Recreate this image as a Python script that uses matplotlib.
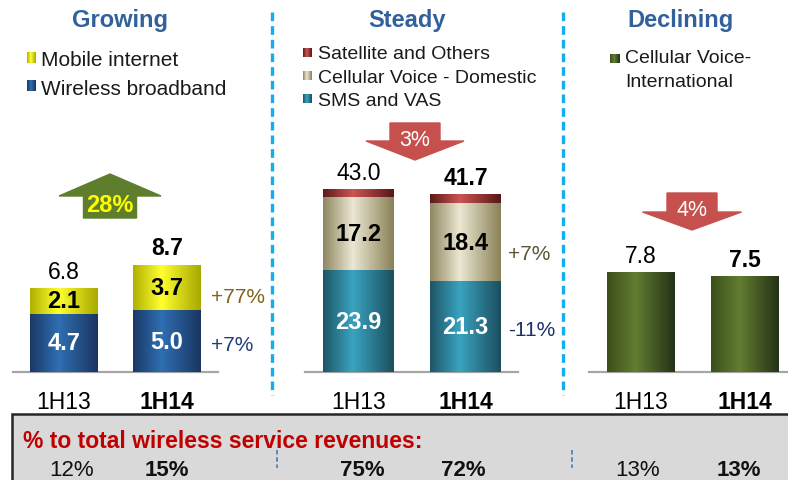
import matplotlib
matplotlib.use("Agg")
import matplotlib.pyplot as plt
import numpy as np
from matplotlib.colors import LinearSegmentedColormap
from matplotlib.patches import Rectangle, FancyArrow

plt.rcParams['font.family'] = ['Liberation Sans', 'DejaVu Sans']

# ---------------- data ----------------
categories = ['1H13', '1H14']
wireless_broadband = [4.7, 5.0]
mobile_internet = [2.1, 3.7]
growing_total = [6.8, 8.7]
sms_vas = [23.9, 21.3]
cellular_domestic = [17.2, 18.4]
satellite_others = [1.9, 2.0]
steady_total = [43.0, 41.7]
cellular_international = [7.8, 7.5]
share_growing = ['12%', '15%']
share_steady = ['75%', '72%']
share_declining = ['13%', '13%']
panel_titles = ['Growing', 'Steady', 'Declining']
panel_changes = ['28%', '3%', '4%']
growing_seg_changes = ['+77%', '+7%']
steady_seg_changes = ['+7%', '-11%']

W, H = 788, 481
fig = plt.figure(figsize=(W / 100, H / 100), dpi=100)
fig.patch.set_facecolor('white')

# overlay axes in pixel coordinates
ov = fig.add_axes([0, 0, 1, 1], zorder=5)
ov.set_xlim(0, W)
ov.set_ylim(H, 0)
ov.axis('off')
ov.patch.set_alpha(0)

GRAD = {
    'blue': ['#1a3866', '#2f6fb3', '#1a3560'],
    'yellow': ['#b0b000', '#ffff30', '#a8a800'],
    'teal': ['#1d5566', '#3aa3c0', '#1b4e5e'],
    'tan': ['#8f8761', '#ebe7d2', '#8a8158'],
    'red': ['#5a1a1a', '#cc5552', '#561818'],
    'green': ['#3b4f1b', '#627d31', '#243117'],
}


def cmap_for(key):
    c = GRAD[key]
    return LinearSegmentedColormap.from_list(key, [(0, c[0]), (0.42, c[1]), (1, c[2])])


def gradient_fill(ax, patch, key, zorder=3):
    x0, y0 = patch.get_x(), patch.get_y()
    w, h = patch.get_width(), patch.get_height()
    grad = np.linspace(0, 1, 256).reshape(1, -1)
    im = ax.imshow(grad, cmap=cmap_for(key), aspect='auto',
                   extent=(x0, x0 + w, y0, y0 + h), origin='lower', zorder=zorder)
    im.set_clip_path(patch)
    patch.set_facecolor('none')


def px_axes(left, top, right, bottom):
    return fig.add_axes([left / W, 1 - bottom / H, (right - left) / W, (bottom - top) / H])


def setup_bar_axes(left, right, c0, c1, top, baseline, px_per_unit):
    ax = px_axes(left, top, right, baseline)
    span = (right - left) / (c1 - c0)
    a = -(c0 - left) / (c1 - c0)
    ax.set_xlim(a, a + span)
    ax.set_ylim(0, (baseline - top) / px_per_unit)
    for s in ax.spines.values():
        s.set_visible(False)
    ax.patch.set_alpha(0)
    ax.set_yticks([])
    ax.axhline(0, color='#a6a6a6', lw=1.6, zorder=2, clip_on=False)
    ax.set_xticks(range(len(categories)), categories)
    ax.tick_params(axis='x', length=0, pad=13, labelsize=16.5, colors='#000000')
    labs = ax.get_xticklabels()
    labs[1].set_fontweight('bold')
    return ax


def total_labels(ax, bars, totals):
    for i, (b, t) in enumerate(zip(bars, totals)):
        ax.annotate(f'{t:.1f}', (b.get_x() + b.get_width() / 2, b.get_y() + b.get_height()),
                    xytext=(0, 12), textcoords='offset points', ha='center', va='center',
                    fontsize=16.5, fontweight='bold' if i == 1 else 'normal', color='#000000')


def seg_labels(ax, bars, values, color):
    for b, v in zip(bars, values):
        ax.text(b.get_x() + b.get_width() / 2, b.get_y() + b.get_height() / 2, f'{v:.1f}',
                ha='center', va='center', fontsize=17, fontweight='bold', color=color, zorder=6)


x = np.arange(len(categories))

# ---------------- Growing ----------------
axg = setup_bar_axes(13, 218, 64, 167, 120, 373, 12.35)
bw = 68 / 103
b1 = axg.bar(x, wireless_broadband, width=bw, zorder=3)
b2 = axg.bar(x, mobile_internet, width=bw, bottom=wireless_broadband, zorder=3)
for p in b1:
    gradient_fill(axg, p, 'blue')
for p in b2:
    gradient_fill(axg, p, 'yellow')
seg_labels(axg, b1, wireless_broadband, 'white')
seg_labels(axg, b2, mobile_internet, 'black')
total_labels(axg, b2, growing_total)

# ---------------- Steady ----------------
axs = setup_bar_axes(305, 518, 358.5, 465.5, 120, 373, 4.26)
bw = 71 / 107
bottom2 = [a + b for a, b in zip(sms_vas, cellular_domestic)]
s1 = axs.bar(x, sms_vas, width=bw, zorder=3)
s2 = axs.bar(x, cellular_domestic, width=bw, bottom=sms_vas, zorder=3)
s3 = axs.bar(x, satellite_others, width=bw, bottom=bottom2, zorder=3)
for p in s1:
    gradient_fill(axs, p, 'teal')
for p in s2:
    gradient_fill(axs, p, 'tan')
for p in s3:
    gradient_fill(axs, p, 'red')
seg_labels(axs, s1, sms_vas, 'white')
seg_labels(axs, s2, cellular_domestic, 'black')
total_labels(axs, s3, steady_total)

# ---------------- Declining ----------------
axd = setup_bar_axes(589, 788, 641, 744.5, 120, 373, 12.8)
bw = 68 / 103.5
d1 = axd.bar(x, cellular_international, width=bw, zorder=3)
for p in d1:
    gradient_fill(axd, p, 'green')
total_labels(axd, d1, cellular_international)

# ---------------- titles ----------------
title_color = '#31609b'
for tx, t in zip([120, 407, 681], panel_titles):
    ov.text(tx, 27, t, ha='center', va='baseline', fontsize=17, fontweight='bold', color=title_color)


# ---------------- legends ----------------
def legend_marker(x0, y0, w, h, key):
    r = Rectangle((x0, y0), w, h, facecolor='none', edgecolor='none')
    ov.add_patch(r)
    grad = np.linspace(0, 1, 64).reshape(1, -1)
    im = ov.imshow(grad, cmap=cmap_for(key), aspect='auto', extent=(x0, x0 + w, y0 + h, y0),
                   zorder=6)
    im.set_clip_path(r)


legend_marker(27, 53, 9, 11, 'yellow')
ov.text(41, 66, 'Mobile internet', fontsize=15, va='baseline', color='#1a1a1a')
legend_marker(27, 81, 9, 11, 'blue')
ov.text(41, 95, 'Wireless broadband', fontsize=15, va='baseline', color='#1a1a1a')

legend_marker(303, 49, 9, 9, 'red')
ov.text(318, 59, 'Satellite and Others', fontsize=14, va='baseline', color='#1a1a1a')
legend_marker(303, 72, 9, 9, 'tan')
ov.text(318, 83, 'Cellular Voice - Domestic', fontsize=14, va='baseline', color='#1a1a1a')
legend_marker(303, 95, 9, 9, 'teal')
ov.text(318, 106, 'SMS and VAS', fontsize=14, va='baseline', color='#1a1a1a')

legend_marker(610, 55, 10, 9, 'green')
ov.text(625, 63, 'Cellular Voice-', fontsize=14, va='baseline', color='#1a1a1a')
ov.text(625, 87, 'International', fontsize=14, va='baseline', color='#1a1a1a')

# ---------------- change arrows ----------------
ov.add_patch(FancyArrow(110, 219, 0, -44, width=53, head_width=102, head_length=22,
                        length_includes_head=True, color='#5e7e2e', zorder=4))
ov.text(110, 206, panel_changes[0], ha='center', va='center', fontsize=17,
        fontweight='bold', color='#ffff00', zorder=7)
ov.add_patch(FancyArrow(415, 124, 0, 37, width=50, head_width=98, head_length=19,
                        length_includes_head=True, color='#c6504e', zorder=4))
ov.text(415, 141, panel_changes[1], ha='center', va='center', fontsize=15.5,
        color='white', zorder=7)
ov.add_patch(FancyArrow(692, 194, 0, 37, width=50, head_width=99, head_length=18,
                        length_includes_head=True, color='#c6504e', zorder=4))
ov.text(692, 211, panel_changes[2], ha='center', va='center', fontsize=15.5,
        color='white', zorder=7)

# segment change labels
ov.text(211, 298, growing_seg_changes[0], ha='left', va='center', fontsize=15, color='#7f6418')
ov.text(211, 346, growing_seg_changes[1], ha='left', va='center', fontsize=15, color='#1f3d7a')
ov.text(508, 254, steady_seg_changes[0], ha='left', va='center', fontsize=15, color='#5c5534')
ov.text(508, 331, steady_seg_changes[1], ha='left', va='center', fontsize=15, color='#1f2f6e')

# ---------------- separators ----------------
for sx in [272, 563]:
    ov.plot([sx, sx], [13, 396], color='#12aeef', lw=2.4, dashes=(2.6, 1.5), solid_capstyle='butt')

# ---------------- bottom box ----------------
ov.add_patch(Rectangle((12, 415), 800, 80, facecolor='#d9d9d9', edgecolor='#262626', lw=1.8,
                       zorder=1))
ov.text(23, 448, '% to total wireless service revenues:', fontsize=16.5, fontweight='bold',
        color='#c00000', va='baseline', zorder=3)
share_x = [72, 167, 362, 463, 638, 739]
share_vals = share_growing + share_steady + share_declining
share_bold = [False, True, True, True, False, True]
for sx, sv, sb in zip(share_x, share_vals, share_bold):
    ov.text(sx, 476, sv, ha='center', va='baseline', fontsize=16,
            fontweight='bold' if sb else 'normal', color='#111111', zorder=3)
for sx in [277, 572]:
    ov.plot([sx, sx], [451, 469], color='#4f81bd', lw=1.3, dashes=(2.5, 1.5), zorder=3)

fig.savefig('out.png', dpi=100)
